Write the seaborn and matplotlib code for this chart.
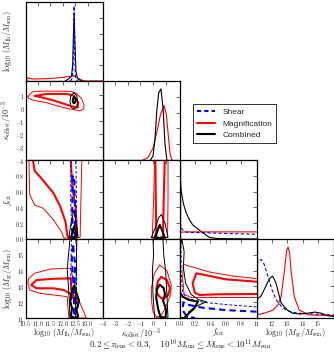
import matplotlib
matplotlib.use("Agg")
import matplotlib.pyplot as plt
from matplotlib.ticker import FuncFormatter, FixedLocator
from matplotlib.lines import Line2D
import seaborn as sns

sns.set_style("white")
plt.rcParams["font.family"] = ["Liberation Sans", "DejaVu Sans"]
plt.rcParams["mathtext.fontset"] = "cm"

# parameter ranges / ticks
lims = [(10.5, 13.6), (-4.0, 2.1), (0.0, 1.0), (11.0, 16.0)]
ticks = [[10.5, 11.0, 11.5, 12.0, 12.5, 13.0],
         [-4, -3, -2, -1, 0, 1],
         [0.0, 0.2, 0.4, 0.6, 0.8],
         [11, 12, 13, 14, 15]]
tick_fmt = ["{:.1f}", "{:d}", "{:.1f}", "{:d}"]
labels = [r"$\log_{10}\,(M_{\rm 1h}/M_{\rm sun})$",
          r"$\kappa_{\rm offset}/10^{-3}$",
          r"$f_{\rm sat}$",
          r"$\log_{10}\,(M_{\rm gr}/M_{\rm sun})$"]

# ---- 1D marginals (diagonal), heights as fraction of panel ----
m1h_red_x = [10.55, 10.56, 10.8, 11.2, 11.6, 12.0, 12.25, 12.45, 12.6, 12.75, 12.9, 13.6]
m1h_red_y = [0.0, 0.04, 0.025, 0.028, 0.035, 0.045, 0.058, 0.065, 0.04, 0.012, 0.0, 0.0]
m1h_blk_x = [12.1, 12.25, 12.35, 12.4, 12.43, 12.46, 12.49, 12.53, 12.6, 12.75]
m1h_blk_y = [0.0, 0.03, 0.06, 0.2, 0.6, 0.83, 0.5, 0.12, 0.03, 0.0]
m1h_blu_x = [12.3, 12.4, 12.43, 12.455, 12.48, 12.51, 12.6]
m1h_blu_y = [0.0, 0.04, 0.4, 0.95, 0.4, 0.04, 0.0]

kap_blk_x = [-0.2, 0.0, 0.15, 0.3, 0.45, 0.63, 0.8, 0.95, 1.1]
kap_blk_y = [0.0, 0.05, 0.25, 0.62, 0.85, 0.9, 0.65, 0.2, 0.0]
kap_red_x = [-0.8, -0.4, 0.0, 0.3, 0.6, 0.87, 1.05, 1.2, 1.35, 1.5]
kap_red_y = [0.0, 0.03, 0.15, 0.35, 0.58, 0.69, 0.58, 0.33, 0.08, 0.0]

fsat_blk_x = [0.0, 0.02, 0.05, 0.087, 0.12, 0.17, 0.3, 0.39, 0.5, 1.0]
fsat_blk_y = [0.95, 0.62, 0.45, 0.33, 0.26, 0.18, 0.08, 0.02, 0.005, 0.0]
fsat_blu_x = [0.0, 0.01, 0.03, 0.06, 0.1, 0.3, 0.6, 1.0]
fsat_blu_y = [0.28, 0.2, 0.13, 0.1, 0.085, 0.08, 0.07, 0.06]
fsat_red_x = [0.0, 0.1, 0.5, 1.0]
fsat_red_y = [0.085, 0.09, 0.09, 0.09]

mgr_blk_x = [11.0, 11.3, 11.6, 11.85, 12.05, 12.25, 12.6, 13.0, 13.35, 13.8, 14.3, 14.8, 15.2, 15.6, 16.0]
mgr_blk_y = [0.23, 0.28, 0.4, 0.5, 0.53, 0.45, 0.19, 0.1, 0.06, 0.05, 0.06, 0.075, 0.06, 0.03, 0.02]
mgr_blu_x = [11.0, 11.15, 11.3, 11.5, 11.75, 12.0, 12.28, 12.6, 12.92, 13.4, 13.78, 14.6, 15.2, 16.0]
mgr_blu_y = [0.68, 0.73, 0.74, 0.68, 0.52, 0.36, 0.23, 0.15, 0.1, 0.07, 0.06, 0.05, 0.045, 0.04]
mgr_red_x = [11.0, 11.5, 12.07, 12.4, 12.6, 12.82, 12.95, 13.05, 13.15, 13.24, 13.45, 13.78, 14.4, 15.0, 16.0]
mgr_red_y = [0.04, 0.06, 0.1, 0.17, 0.27, 0.61, 0.85, 0.9, 0.82, 0.61, 0.27, 0.1, 0.04, 0.035, 0.03]

# ---- 2D contours (x = column parameter, y = row parameter) ----
# kappa vs M1h
k_m_red1_x = [10.6, 10.8, 11.5, 12.3, 12.55, 12.75, 12.85, 12.85, 12.7, 12.4, 12.04, 11.35, 10.8, 10.6, 10.6]
k_m_red1_y = [0.92, 1.3, 1.32, 1.3, 1.15, 0.75, 0.3, -0.05, -0.2, -0.1, 0.04, 0.42, 0.62, 0.8, 0.92]
k_m_red2_x = [10.87, 11.35, 12.18, 12.45, 12.62, 12.6, 12.32, 11.63, 11.08, 10.87]
k_m_red2_y = [0.95, 1.1, 1.1, 0.95, 0.45, 0.05, 0.17, 0.6, 0.87, 0.95]
k_m_blk1_x = [12.45, 12.56, 12.6, 12.56, 12.45, 12.33, 12.29, 12.33, 12.45]
k_m_blk1_y = [1.17, 1.0, 0.55, 0.1, -0.07, 0.1, 0.55, 1.0, 1.17]
k_m_blk2_x = [12.46, 12.52, 12.5, 12.44, 12.4, 12.42, 12.46]
k_m_blk2_y = [0.85, 0.7, 0.45, 0.38, 0.55, 0.75, 0.85]

# fsat vs M1h
f_m_red1_x = [10.64, 10.65, 10.67, 10.87, 11.21, 11.63, 11.97, 12.04, 12.1, 12.7, 12.73, 12.77]
f_m_red1_y = [1.0, 0.8, 0.56, 0.43, 0.39, 0.24, 0.08, 0.02, 0.01, 0.02, 0.5, 1.0]
f_m_red2_x = [10.8, 10.87, 11.08, 11.29, 11.63, 11.9, 12.11, 12.18, 12.25, 12.58, 12.52, 12.39, 12.32]
f_m_red2_y = [1.0, 0.86, 0.79, 0.71, 0.58, 0.41, 0.22, 0.05, 0.01, 0.05, 0.39, 0.65, 1.0]
f_m_blu1_x = [12.33, 12.32, 12.36, 12.45, 12.54, 12.55, 12.53]
f_m_blu1_y = [1.0, 0.5, 0.02, 0.01, 0.02, 0.5, 1.0]
f_m_blu2_x = [12.4, 12.38, 12.41, 12.46, 12.5, 12.49, 12.46, 12.4]
f_m_blu2_y = [0.8, 0.4, 0.03, 0.02, 0.04, 0.4, 0.8, 0.8]
f_m_blk1_x = [12.25, 12.33, 12.45, 12.53, 12.62, 12.45, 12.25]
f_m_blk1_y = [0.02, 0.2, 0.37, 0.22, 0.02, 0.01, 0.02]
f_m_blk2_x = [12.33, 12.4, 12.46, 12.52, 12.56, 12.45, 12.33]
f_m_blk2_y = [0.02, 0.1, 0.16, 0.1, 0.02, 0.01, 0.02]

# fsat vs kappa
f_k_red1_x = [0.13, 0.05, -0.05, 0.0, 0.6, 1.15, 1.19, 1.19]
f_k_red1_y = [1.0, 0.5, 0.05, 0.01, 0.0, 0.02, 0.5, 1.0]
f_k_red2_x = [0.19, 0.22, 0.27, 0.5, 0.79, 0.85, 0.93]
f_k_red2_y = [1.0, 0.5, 0.03, 0.01, 0.03, 0.5, 1.0]
f_k_blk1_x = [-0.13, 0.2, 0.45, 0.66, 0.95, 1.19, 0.5, -0.13]
f_k_blk1_y = [0.02, 0.15, 0.27, 0.31, 0.2, 0.02, 0.01, 0.02]
f_k_blk2_x = [0.13, 0.35, 0.53, 0.75, 0.93, 0.5, 0.13]
f_k_blk2_y = [0.02, 0.1, 0.18, 0.1, 0.02, 0.01, 0.02]

# Mgr vs M1h
g_m_red1_x = [12.32, 11.5, 10.87, 10.62, 10.6, 10.67, 11.08, 11.63, 12.18, 12.2, 12.25, 12.94, 12.87, 12.73, 12.6, 12.5, 12.4, 12.32]
g_m_red1_y = [14.15, 14.1, 13.83, 13.5, 13.2, 12.77, 12.56, 12.46, 12.35, 11.8, 11.0, 11.0, 11.3, 11.82, 12.3, 12.9, 13.6, 14.15]
g_m_red2_x = [12.32, 11.6, 10.94, 10.73, 10.94, 11.63, 12.04, 12.39, 12.66, 12.6, 12.4, 12.35, 12.32]
g_m_red2_y = [13.51, 13.48, 13.4, 13.09, 12.88, 12.88, 12.77, 12.46, 12.14, 11.95, 12.3, 12.9, 13.51]
g_m_blk1_x = [12.29, 12.22, 12.18, 12.25, 12.29, 12.52, 12.52, 12.55, 12.55, 12.57]
g_m_blk1_y = [16.0, 14.8, 14.1, 12.5, 11.0, 11.0, 12.5, 14.1, 14.8, 16.0]
g_m_blk2_x = [12.45, 12.55, 12.65, 12.6, 12.55, 12.62, 12.55, 12.45, 12.32, 12.38, 12.3, 12.35, 12.45]
g_m_blk2_y = [13.0, 12.6, 12.1, 11.7, 11.5, 11.1, 11.02, 11.02, 11.15, 11.6, 12.0, 12.6, 13.0]
g_m_blu1_x = [12.35, 12.32, 12.36, 12.55, 12.56, 12.55]
g_m_blu1_y = [16.0, 13.5, 11.0, 11.0, 13.5, 16.0]
g_m_blu2_x = [12.42, 12.36, 12.38, 12.45, 12.48, 12.46, 12.5, 12.45, 12.42]
g_m_blu2_y = [15.6, 15.0, 14.4, 12.5, 11.1, 12.5, 14.4, 15.0, 15.6]

# Mgr vs kappa
g_k_blk1_x = [0.0, 0.05, -0.05, 0.0, 0.13, 1.19, 1.1, 1.0, 0.85, 0.79]
g_k_blk1_y = [16.0, 15.0, 14.0, 12.5, 11.0, 11.0, 12.5, 14.0, 15.0, 16.0]
g_k_red1_x = [0.53, 1.1, 1.45, 1.4, 1.19, 0.9, 0.6, 0.27, 0.0, -0.1, -0.13, 0.1, 0.53]
g_k_red1_y = [14.35, 14.0, 13.09, 12.5, 12.03, 11.5, 11.1, 11.08, 11.4, 12.0, 12.88, 13.8, 14.35]
g_k_red2_x = [0.66, 1.1, 1.35, 1.2, 0.9, 0.66, 0.35, 0.27, 0.4, 0.66]
g_k_red2_y = [13.6, 13.4, 12.88, 12.45, 12.25, 12.25, 12.5, 12.88, 13.35, 13.6]
g_k_blk2_x = [0.53, 0.85, 0.95, 0.8, 1.05, 1.0, 0.6, 0.4, 0.25, 0.3, 0.53]
g_k_blk2_y = [13.1, 12.9, 12.5, 12.1, 11.5, 11.05, 11.05, 11.6, 12.3, 12.8, 13.1]

# Mgr vs fsat
g_f_red1_x = [1.0, 0.7, 0.4, 0.15, 0.05, 0.04, 0.06, 0.15, 0.4, 0.7, 1.0]
g_f_red1_y = [13.5, 13.65, 13.9, 14.25, 14.4, 13.5, 12.5, 12.3, 12.3, 12.3, 12.3]
g_f_red2_x = [1.0, 0.6, 0.3, 0.22, 0.17, 0.2, 0.26, 0.5, 1.0]
g_f_red2_y = [13.3, 13.45, 13.75, 13.83, 13.2, 12.6, 12.46, 12.5, 12.52]
g_f_blk1_x = [0.03, 0.06, 0.05, 0.08, 0.15, 0.25, 0.35, 0.22, 0.12, 0.1, 0.01, 0.005, 0.01, 0.03]
g_f_blk1_y = [16.0, 15.2, 14.2, 13.2, 12.5, 12.15, 12.03, 11.75, 11.4, 11.0, 11.0, 13.5, 15.5, 16.0]
g_f_blk2_x = [0.01, 0.04, 0.12, 0.24, 0.19, 0.1, 0.06, 0.01]
g_f_blk2_y = [12.6, 12.35, 12.15, 12.03, 11.61, 11.2, 11.0, 11.0]
g_f_blu1_x = [1.0, 0.6, 0.3, 0.1, 0.04, 0.02, 0.02]
g_f_blu1_y = [11.7, 11.85, 12.0, 12.25, 12.6, 14.0, 15.8]
g_f_blu2_x = [1.0, 0.6, 0.3, 0.1, 0.05, 0.04, 0.08, 0.15, 0.2]
g_f_blu2_y = [11.4, 11.5, 11.65, 11.85, 12.0, 11.5, 11.2, 11.05, 11.0]

THIN, THICK, DIAG = 0.7, 1.5, 0.8
red, blue, black = "#ff0000", "#0000ff", "black"
dash = (0, (3, 2))

# (row, col) -> list of (x, y, color, lw, linestyle)
curves = {
    (0, 0): [(m1h_red_x, m1h_red_y, red, DIAG, "-"), (m1h_blk_x, m1h_blk_y, black, DIAG, "-"),
             (m1h_blu_x, m1h_blu_y, blue, DIAG, dash)],
    (1, 1): [(kap_red_x, kap_red_y, red, DIAG, "-"), (kap_blk_x, kap_blk_y, black, DIAG, "-")],
    (2, 2): [(fsat_red_x, fsat_red_y, red, DIAG, "-"), (fsat_blu_x, fsat_blu_y, blue, DIAG, dash),
             (fsat_blk_x, fsat_blk_y, black, DIAG, "-")],
    (3, 3): [(mgr_blu_x, mgr_blu_y, blue, DIAG, dash), (mgr_red_x, mgr_red_y, red, DIAG, "-"),
             (mgr_blk_x, mgr_blk_y, black, DIAG, "-")],
    (1, 0): [(k_m_red1_x, k_m_red1_y, red, THIN, "-"), (k_m_red2_x, k_m_red2_y, red, THICK, "-"),
             (k_m_blk1_x, k_m_blk1_y, black, THIN, "-"), (k_m_blk2_x, k_m_blk2_y, black, THICK, "-")],
    (2, 0): [(f_m_red1_x, f_m_red1_y, red, THIN, "-"), (f_m_red2_x, f_m_red2_y, red, THICK, "-"),
             (f_m_blu1_x, f_m_blu1_y, blue, THIN, dash), (f_m_blu2_x, f_m_blu2_y, blue, THICK, dash),
             (f_m_blk1_x, f_m_blk1_y, black, THIN, "-"), (f_m_blk2_x, f_m_blk2_y, black, THICK, "-")],
    (2, 1): [(f_k_red1_x, f_k_red1_y, red, THIN, "-"), (f_k_red2_x, f_k_red2_y, red, THICK, "-"),
             (f_k_blk1_x, f_k_blk1_y, black, THIN, "-"), (f_k_blk2_x, f_k_blk2_y, black, THICK, "-")],
    (3, 0): [(g_m_red1_x, g_m_red1_y, red, THIN, "-"), (g_m_red2_x, g_m_red2_y, red, THICK, "-"),
             (g_m_blu1_x, g_m_blu1_y, blue, THIN, dash), (g_m_blu2_x, g_m_blu2_y, blue, THICK, dash),
             (g_m_blk1_x, g_m_blk1_y, black, THIN, "-"), (g_m_blk2_x, g_m_blk2_y, black, THICK, "-")],
    (3, 1): [(g_k_red1_x, g_k_red1_y, red, THIN, "-"), (g_k_red2_x, g_k_red2_y, red, THICK, "-"),
             (g_k_blk1_x, g_k_blk1_y, black, THIN, "-"), (g_k_blk2_x, g_k_blk2_y, black, THICK, "-")],
    (3, 2): [(g_f_red1_x, g_f_red1_y, red, THIN, "-"), (g_f_red2_x, g_f_red2_y, red, THICK, "-"),
             (g_f_blu1_x, g_f_blu1_y, blue, THIN, dash), (g_f_blu2_x, g_f_blu2_y, blue, THICK, dash),
             (g_f_blk1_x, g_f_blk1_y, black, THIN, "-"), (g_f_blk2_x, g_f_blk2_y, black, THICK, "-")],
}

W, H = 334, 352
fig = plt.figure(figsize=(W / 100, H / 100), dpi=100)
x0, y0, pw, ph = 25.5, 2.0, 77.0, 79.0


def fmt_for(k):
    f = tick_fmt[k]
    return FuncFormatter(lambda v, p: "$" + (f.format(int(round(v))) if f == "{:d}" else f.format(v)) + "$")


for (i, j), lines in curves.items():
    ax = fig.add_axes([(x0 + j * pw) / W, 1 - (y0 + (i + 1) * ph) / H, pw / W, ph / H])
    for xs, ys, c, lw, ls in lines:
        sns.lineplot(x=xs, y=ys, sort=False, estimator=None, ax=ax,
                     color=c, linewidth=lw, linestyle=ls)
    ax.set_xlim(*lims[j])
    ax.xaxis.set_major_locator(FixedLocator(ticks[j]))
    if i == j:
        ax.set_ylim(0, 1)
        ax.yaxis.set_major_locator(FixedLocator([0.2, 0.4, 0.6, 0.8]))
    else:
        ax.set_ylim(*lims[i])
        ax.yaxis.set_major_locator(FixedLocator(ticks[i]))
    ax.tick_params(direction="in", top=True, right=True, length=3, width=0.5,
                   labelsize=4.3, pad=0.8)
    for s in ax.spines.values():
        s.set_linewidth(0.9)
        s.set_color("black")
    if i == 3:
        ax.xaxis.set_major_formatter(fmt_for(j))
        ax.set_xlabel(labels[j], fontsize=5.8)
        ax.xaxis.set_label_coords(0.5, -0.105)
    else:
        ax.set_xticklabels([])
    if j == 0 and i != 0:
        ax.yaxis.set_major_formatter(fmt_for(i))
    else:
        ax.set_yticklabels([])
    if j == 0:
        ax.set_ylabel(labels[i], fontsize=5.8)
        ax.yaxis.set_label_coords(-0.155, 0.5)
    ax.grid(False)

handles = [Line2D([], [], color=blue, lw=1.5, linestyle=(0, (2, 1.5))),
           Line2D([], [], color=red, lw=1.5),
           Line2D([], [], color=black, lw=1.5)]
leg = fig.legend(handles, ["Shear", "Magnification", "Combined"], loc="upper left",
                 bbox_to_anchor=(193 / W, 1 - 104 / H), fontsize=6, fancybox=False,
                 frameon=True, edgecolor="black", handlelength=2.2, borderpad=0.5,
                 labelspacing=0.45, handletextpad=0.8, borderaxespad=0)
leg.get_frame().set_linewidth(0.7)

fig.text(180 / W, 1 - 351.8 / H,
         r"$0.2 \leq z_{\rm lens} < 0.3,\quad 10^{10}M_{\rm sun} \leq M_{\rm lens} < 10^{11}M_{\rm sun}$",
         ha="center", va="bottom", fontsize=6.5)

fig.savefig("out.png", dpi=100)
